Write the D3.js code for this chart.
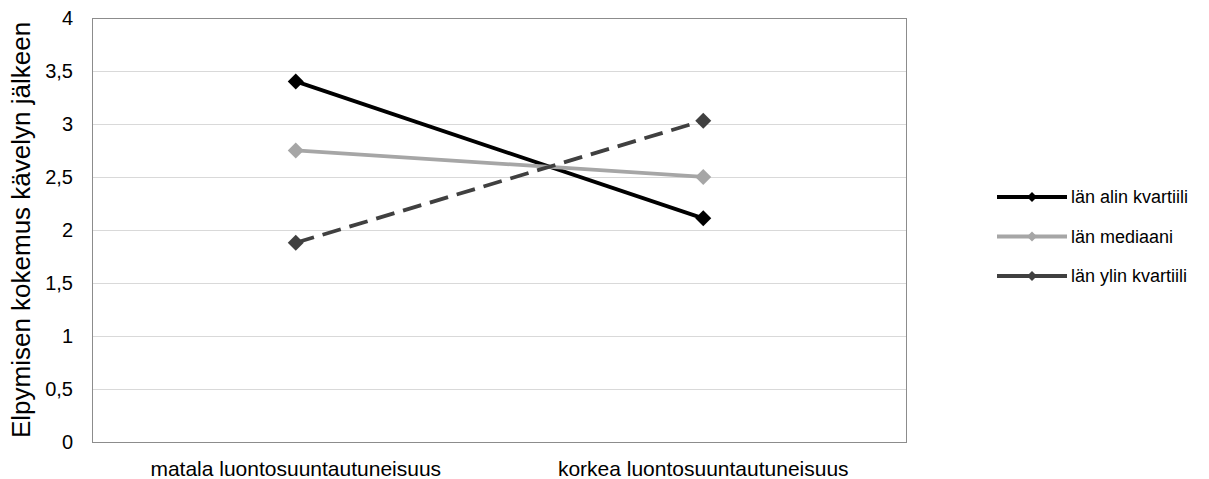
<!DOCTYPE html>
<html>
<head>
<meta charset="utf-8">
<script src="https://cdn.jsdelivr.net/npm/d3@7"></script>
<style>
  body { margin: 0; background: #fff; }
  text { font-family: "Liberation Sans", Arial, sans-serif; fill: #000; }
</style>
</head>
<body>
<svg id="chart" width="1209" height="479"></svg>
<script>
// Categories on the x axis
const categories = ["matala luontosuuntautuneisuus", "korkea luontosuuntautuneisuus"];
// Series names and their values per category
const seriesNames = ["län alin kvartiili", "län mediaani", "län ylin kvartiili"];
const alinValues = [3.40, 2.11];
const mediaaniValues = [2.75, 2.50];
const ylinValues = [1.88, 3.03];
// Y axis ticks
const yTicks = [0, 0.5, 1, 1.5, 2, 2.5, 3, 3.5, 4];
const yTitle = "Elpymisen kokemus kävelyn jälkeen";

const series = [
  { name: seriesNames[0], values: alinValues, color: "#000000", dash: null },
  { name: seriesNames[1], values: mediaaniValues, color: "#a6a6a6", dash: null },
  { name: seriesNames[2], values: ylinValues, color: "#404040", dash: "19,9" }
];

const svg = d3.select("#chart");
const plot = { left: 92, top: 17.7, right: 907, bottom: 442.3 };

const x = d3.scaleBand().domain(categories).range([plot.left, plot.right]);
const y = d3.scaleLinear().domain([0, 4]).range([plot.bottom, plot.top]);

// Gridlines
svg.append("g").selectAll("line").data(yTicks.filter(d => d > 0)).join("line")
  .attr("x1", plot.left).attr("x2", plot.right)
  .attr("y1", d => Math.round(y(d)) + 0.5).attr("y2", d => Math.round(y(d)) + 0.5)
  .attr("stroke", "#d9d9d9").attr("stroke-width", 1);

// Plot border
svg.append("rect")
  .attr("x", plot.left + 0.5).attr("y", Math.round(plot.top) + 0.5)
  .attr("width", plot.right - plot.left - 1).attr("height", Math.round(plot.bottom) - Math.round(plot.top))
  .attr("fill", "none").attr("stroke", "#8c8c8c").attr("stroke-width", 1);

// Y tick labels
const fmt = d => String(d).replace(".", ",");
svg.append("g").selectAll("text").data(yTicks).join("text")
  .attr("x", 73).attr("y", d => y(d)).attr("dy", "0.35em")
  .attr("text-anchor", "end").attr("font-size", 20)
  .text(fmt);

// X category labels
svg.append("g").selectAll("text").data(categories).join("text")
  .attr("x", d => x(d) + x.bandwidth() / 2).attr("y", 476)
  .attr("text-anchor", "middle").attr("font-size", 21)
  .text(d => d);

// Y axis title
svg.append("text")
  .attr("transform", `translate(30, ${(plot.top + plot.bottom) / 2}) rotate(-90)`)
  .attr("text-anchor", "middle").attr("font-size", 26)
  .text(yTitle);

// Lines and markers
const cx = c => x(c) + x.bandwidth() / 2;
const line = d3.line().x(d => cx(d.c)).y(d => y(d.v));
const diamondPath = (r) => `M0,${-r}L${r},0L0,${r}L${-r},0Z`;

series.forEach(s => {
  const pts = s.values.map((v, i) => ({ c: categories[i], v }));
  svg.append("path").datum(pts)
    .attr("d", line).attr("fill", "none")
    .attr("stroke", s.color).attr("stroke-width", 3.8)
    .attr("stroke-dasharray", s.dash);
  svg.append("g").selectAll("path").data(pts).join("path")
    .attr("transform", d => `translate(${cx(d.c)},${y(d.v)})`)
    .attr("d", diamondPath(8)).attr("fill", s.color);
});

// Legend
const legend = svg.append("g");
const legendY = [197, 236.5, 276];
series.forEach((s, i) => {
  const g = legend.append("g").attr("transform", `translate(997, ${legendY[i]})`);
  g.append("line").attr("x1", 0).attr("x2", 70).attr("y1", 0).attr("y2", 0)
    .attr("stroke", s.color).attr("stroke-width", 3.8);
  g.append("path").attr("transform", "translate(35,0)").attr("d", diamondPath(5)).attr("fill", s.color);
  g.append("text").attr("x", 74).attr("dy", "0.35em").attr("font-size", 18).text(s.name);
});
</script>
</body>
</html>
